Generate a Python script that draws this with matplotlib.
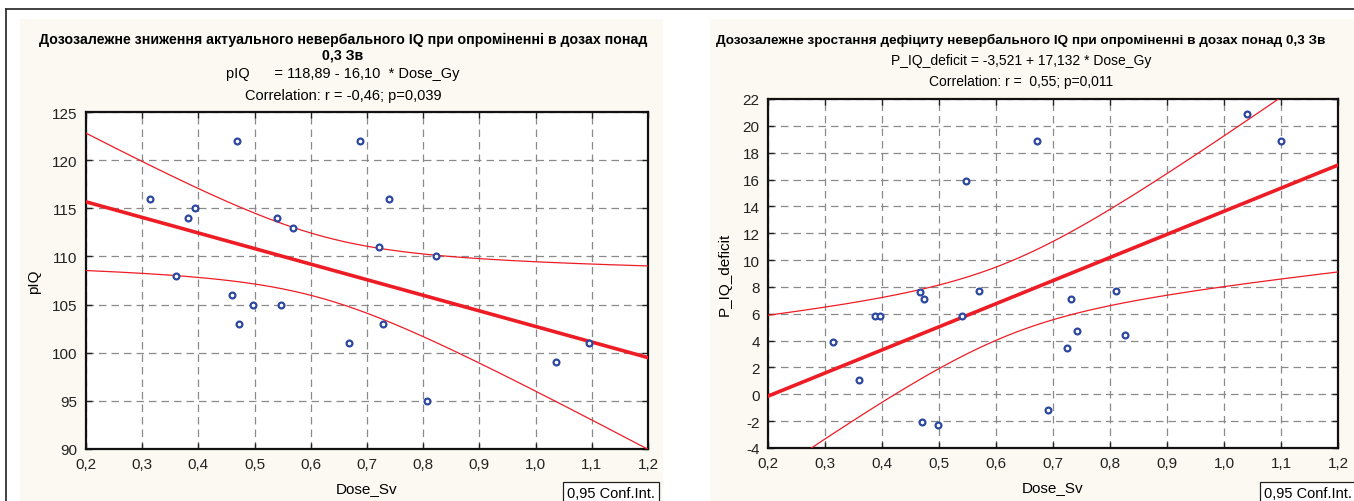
import numpy as np
import matplotlib
matplotlib.use("Agg")
import matplotlib.pyplot as plt
from matplotlib.patches import Rectangle
from matplotlib.lines import Line2D

# ---------------- data ----------------
dose_left = [0.314, 0.360, 0.381, 0.394, 0.460, 0.469, 0.472, 0.497, 0.540, 0.547,
             0.568, 0.668, 0.688, 0.721, 0.728, 0.739, 0.807, 0.823, 1.036, 1.095]
piq = [116, 108, 114, 115, 106, 122, 103, 105, 114, 105,
       113, 101, 122, 111, 103, 116, 95, 110, 99, 101]

dose_right = [0.314, 0.360, 0.388, 0.396, 0.467, 0.474, 0.470, 0.498, 0.540, 0.547,
              0.570, 0.672, 0.691, 0.725, 0.731, 0.742, 0.810, 0.826, 1.040, 1.100]
deficit = [3.9, 1.07, 5.83, 5.83, 7.6, 7.1, -2.1, -2.3, 5.83, 15.9,
           7.7, 18.9, -1.2, 3.45, 7.1, 4.7, 7.7, 4.4, 20.9, 18.9]

x_ticks = [0.2, 0.3, 0.4, 0.5, 0.6, 0.7, 0.8, 0.9, 1.0, 1.1, 1.2]
x_ticklabels = ["0,2", "0,3", "0,4", "0,5", "0,6", "0,7", "0,8", "0,9", "1,0", "1,1", "1,2"]
left_yticks = [90, 95, 100, 105, 110, 115, 120, 125]
right_yticks = [-4, -2, 0, 2, 4, 6, 8, 10, 12, 14, 16, 18, 20, 22]

left_title = "Дозозалежне зниження актуального невербального IQ при опроміненні в дозах понад\n0,3 Зв"
left_eq = "pIQ      = 118,89 - 16,10  * Dose_Gy"
left_corr = "Correlation: r = -0,46; p=0,039"
right_title = "Дозозалежне зростання дефіциту невербального IQ при опроміненні в дозах понад 0,3 Зв"
right_eq = "P_IQ_deficit = -3,521 + 17,132 * Dose_Gy"
right_corr = "Correlation: r =  0,55; p=0,011"
t_crit = 2.101  # t(0.975, df=18)

# ---------------- style ----------------
W, H = 1354, 502
FONT = ["Liberation Sans", "DejaVu Sans"]
plt.rcParams['font.family'] = FONT
RED = "#ee1c25"
BLUE = "#2b47a0"
CREAM = "#fbf9f1"

fig = plt.figure(figsize=(W / 100, H / 100), dpi=100)
fig.patch.set_facecolor("white")

def fx(x):
    return x / W

def fy(y):
    return 1 - y / H

# panel backgrounds and frame
fig.patches.append(Rectangle((fx(20), 0), fx(643), 482 / H, transform=fig.transFigure,
                             facecolor=CREAM, edgecolor="none", zorder=-5))
fig.patches.append(Rectangle((fx(710), 0), fx(644), 482 / H, transform=fig.transFigure,
                             facecolor=CREAM, edgecolor="none", zorder=-5))
fig.lines.append(Line2D([fx(6), 1], [fy(10), fy(10)], transform=fig.transFigure,
                        color="#333333", lw=1.3, zorder=-4))
fig.lines.append(Line2D([fx(6), fx(6)], [fy(10), 0], transform=fig.transFigure,
                        color="#333333", lw=1.3, zorder=-4))


def make_panel(rect, xs, ys, yticks, ylabel):
    ax = fig.add_axes(rect)
    ax.set_zorder(2)
    ax.set_facecolor("white")
    xs = np.asarray(xs, float)
    ys = np.asarray(ys, float)
    n = len(xs)
    b, a = np.polyfit(xs, ys, 1)
    resid = ys - (a + b * xs)
    s = np.sqrt(np.sum(resid ** 2) / (n - 2))
    xm = xs.mean()
    sxx = np.sum((xs - xm) ** 2)
    xx = np.linspace(0.2, 1.2, 300)
    yy = a + b * xx
    se = s * np.sqrt(1 / n + (xx - xm) ** 2 / sxx)
    ax.plot(xx, yy + t_crit * se, color=RED, lw=0.9, zorder=3)
    ax.plot(xx, yy - t_crit * se, color=RED, lw=0.9, zorder=3)
    ax.plot(xx, yy, color=RED, lw=2.6, zorder=3)
    ax.plot(xs, ys, linestyle="none", marker="o", ms=4.2, mfc="white", mec=BLUE,
            mew=1.6, zorder=4)
    ax.set_xlim(0.2, 1.2)
    ax.set_ylim(yticks[0], yticks[-1])
    ax.set_xticks(x_ticks)
    ax.set_xticklabels(x_ticklabels)
    ax.set_yticks(yticks)
    ax.set_yticklabels([str(v) for v in yticks])
    ax.grid(True, color="#8a8a8a", linestyle=(0, (6, 4)), lw=0.9)
    ax.set_axisbelow(True)
    ax.tick_params(direction="in", top=True, right=True, length=4, width=1,
                   labelsize=11, pad=6, colors="#222222")
    for sp in ax.spines.values():
        sp.set_linewidth(1.6)
        sp.set_color("#111111")
    ax.set_xlabel("Dose_Sv", fontsize=11, labelpad=7)
    ax.set_ylabel(ylabel, fontsize=11, labelpad=8)
    return ax

axL = make_panel([fx(86), 1 - 450 / H, fx(562), 337 / H], dose_left, piq, left_yticks, "pIQ")
axR = make_panel([fx(768), 1 - 449 / H, fx(570), 349 / H], dose_right, deficit, right_yticks, "P_IQ_deficit")

# titles
fig.text(fx(343), fy(48), left_title, ha="center", va="center", fontsize=10.2,
         fontweight="bold", linespacing=1.15)
fig.text(fx(343), fy(74), left_eq, ha="center", va="center", fontsize=10.5)
fig.text(fx(343), fy(96), left_corr, ha="center", va="center", fontsize=10.5)
fig.text(fx(1021), fy(40), right_title, ha="center", va="center", fontsize=9.7,
         fontweight="bold")
fig.text(fx(1021), fy(61), right_eq, ha="center", va="center", fontsize=10)
fig.text(fx(1021), fy(82), right_corr, ha="center", va="center", fontsize=10)

# conf. int. boxes
for xc in (fx(611), fx(1308)):
    fig.text(xc, fy(494), "0,95 Conf.Int.", ha="center", va="center", fontsize=10.5,
             bbox=dict(boxstyle="square,pad=0.25", facecolor="white", edgecolor="#222222", lw=0.9))

fig.savefig("out.png", dpi=100)
